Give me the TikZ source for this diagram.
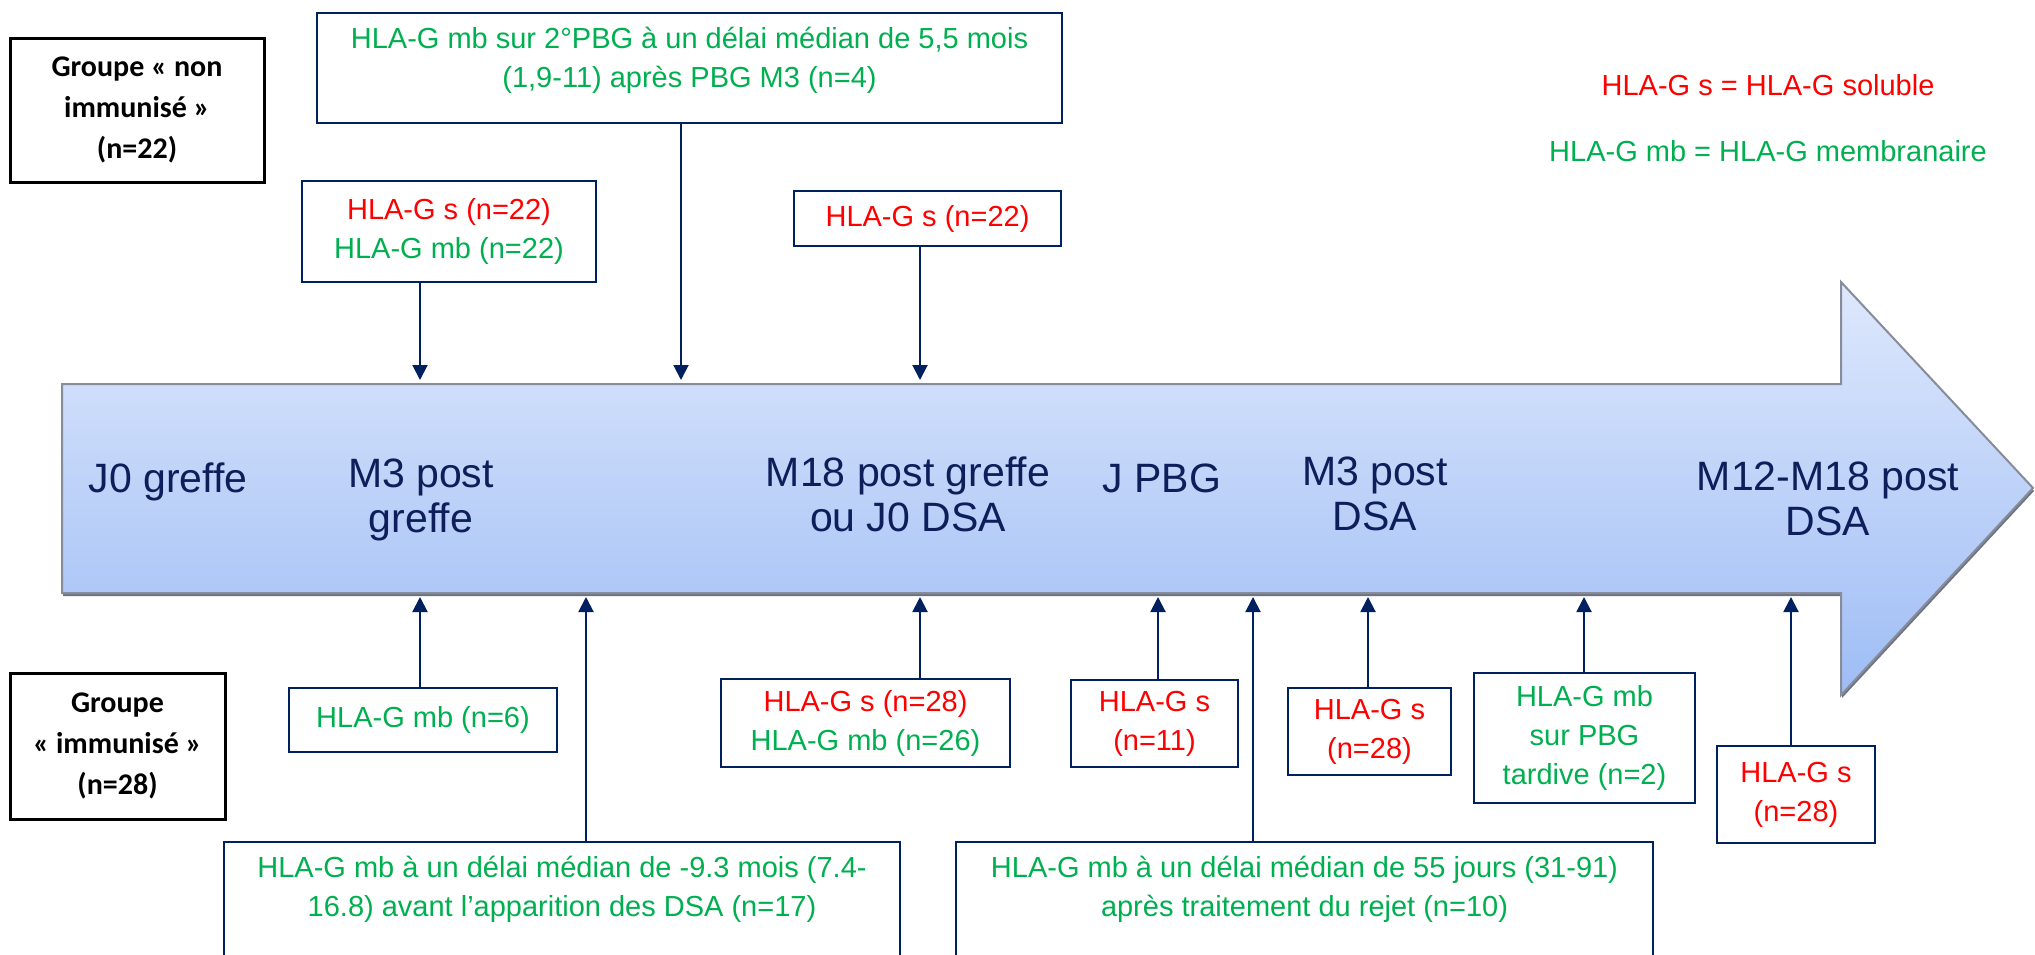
\documentclass[tikz,border=0pt]{standalone}
\usepackage{fontspec}
\setmainfont{Liberation Sans}
\newfontfamily\grpfont{Carlito}
\usetikzlibrary{arrows.meta}
\definecolor{navy}{RGB}{0,32,96}
\definecolor{lblue}{RGB}{13,30,90}
\definecolor{hred}{RGB}{255,0,0}
\definecolor{hgreen}{RGB}{0,176,80}
\definecolor{arrtop}{RGB}{222,232,252}
\definecolor{arrbot}{RGB}{158,189,245}
\definecolor{arrline}{RGB}{135,140,155}
\definecolor{arrshadow}{RGB}{110,115,130}
\begin{document}
\begin{tikzpicture}[x=0.5pt,y=-0.5pt,
  box/.style={draw=navy,line width=1.2pt,inner sep=0pt,align=center,font=\fontsize{14.5}{19.5}\selectfont},
  grp/.style={draw=black,line width=1.5pt,inner sep=0pt,align=center,font=\grpfont\bfseries\fontsize{15}{20.5}\selectfont},
  lbl/.style={text=lblue,align=center,anchor=base,inner sep=0pt,font=\fontsize{20.5}{22.5}\selectfont},
  conn/.style={draw=navy,line width=1pt,-{Triangle[length=7.5pt,width=7.5pt]}},
  txt/.style={inner sep=0pt,align=center,font=\fontsize{14.5}{19.5}\selectfont}]
\useasboundingbox (0,0) rectangle (2035,954);
\clip (0,0) rectangle (2035,954);
\fill[white] (0,0) rectangle (2035,954);

% big timeline arrow
\fill[arrshadow,shift={(1,3)}] (62,384) -- (1841,384) -- (1841,282) -- (2033,488) -- (1841,695) -- (1841,593) -- (62,593) -- cycle;
\shade[top color=arrtop,bottom color=arrbot] (62,384) -- (1841,384) -- (1841,282) -- (2033,488) -- (1841,695) -- (1841,593) -- (62,593) -- cycle;
\draw[arrline,line width=1pt] (62,384) -- (1841,384) -- (1841,282) -- (2033,488) -- (1841,695) -- (1841,593) -- (62,593) -- cycle;

% labels inside arrow (base = last line)
\node[lbl] (l1) at (168,492) {J0 greffe};
\node[lbl] (l2) at (421,532) {M3 post\\greffe};
\node[lbl] (l3) at (908,531) {M18 post greffe\\ou J0 DSA};
\node[lbl] (l4) at (1162,492) {J PBG};
\node[lbl] (l5) at (1375,530) {M3 post\\DSA};
\node[lbl] (l6) at (1828,535) {M12-M18 post\\DSA};

% top group
\node[grp,minimum width=127pt,minimum height=72pt] (g1) at (137,110) {Groupe «~non\\immunisé~»\\(n=22)};
\node[box,minimum width=372.5pt,minimum height=55pt] (top) at (689.5,68) {};
\node[txt,text=hgreen] (toptxt) at (689.5,60) {HLA-G mb sur 2°PBG à un délai médian de 5,5 mois\\(1,9-11) après PBG M3 (n=4)};
\node[box,minimum width=147pt,minimum height=50.5pt] (b22) at (449,231.5) {\textcolor{hred}{HLA-G s (n=22)}\\\textcolor{hgreen}{HLA-G mb (n=22)}};
\node[box,minimum width=133.5pt,minimum height=27.5pt,text=hred] (s22) at (927.5,218.5) {HLA-G s (n=22)};

% legend
\node[txt,text=hred] (leg1) at (1768,85) {HLA-G s = HLA-G soluble};
\node[txt,text=hgreen] (leg2) at (1768,151) {HLA-G mb = HLA-G membranaire};

% bottom group
\node[grp,minimum width=107.5pt,minimum height=73pt] (g2) at (117.5,746) {Groupe\\«~immunisé~»\\(n=28)};
\node[box,minimum width=134pt,minimum height=32pt,text=hgreen] (m6) at (423,720) {HLA-G mb (n=6)};
\node[box,minimum width=338pt,minimum height=80pt] (d93) at (562,922) {};
\node[txt,text=hgreen] (d93t) at (562,889) {HLA-G mb à un délai médian de -9.3 mois (7.4-\\16.8) avant l’apparition des DSA (n=17)};
\node[box,minimum width=144.5pt,minimum height=44pt] (s28a) at (865.5,723) {\textcolor{hred}{HLA-G s (n=28)}\\\textcolor{hgreen}{HLA-G mb (n=26)}};
\node[box,minimum width=83.5pt,minimum height=43.5pt,text=hred] (s11) at (1154.5,723.5) {HLA-G s\\(n=11)};
\node[box,minimum width=348.5pt,minimum height=80pt] (j55) at (1304.5,922) {};
\node[txt,text=hgreen] (j55t) at (1304.5,889) {HLA-G mb à un délai médian de 55 jours (31-91)\\après traitement du rejet (n=10)};
\node[box,minimum width=81.5pt,minimum height=43.5pt,text=hred] (s28b) at (1369.5,731.5) {HLA-G s\\(n=28)};
\node[box,minimum width=110.5pt,minimum height=65pt,text=hgreen] (tard) at (1584.5,738) {HLA-G mb\\sur PBG\\tardive (n=2)};
\node[box,minimum width=79pt,minimum height=48.5pt,text=hred] (s28c) at (1796,794.5) {HLA-G s\\(n=28)};

% arrow tip coordinates
\coordinate (ta) at (420,380);
\coordinate (tb) at (681,380);
\coordinate (tc) at (920,380);
\coordinate (ba) at (420,597);
\coordinate (bb) at (586,597);
\coordinate (bc) at (920,597);
\coordinate (bd) at (1158,597);
\coordinate (be) at (1253,597);
\coordinate (bf) at (1368,597);
\coordinate (bg) at (1584,597);
\coordinate (bh) at (1791,597);

% connectors
\draw[conn] (b22.south -| ta) -- (ta);
\draw[conn] (top.south -| tb) -- (tb);
\draw[conn] (s22.south -| tc) -- (tc);
\draw[conn] (m6.north -| ba) -- (ba);
\draw[conn] (d93.north -| bb) -- (bb);
\draw[conn] (s28a.north -| bc) -- (bc);
\draw[conn] (s11.north -| bd) -- (bd);
\draw[conn] (j55.north -| be) -- (be);
\draw[conn] (s28b.north -| bf) -- (bf);
\draw[conn] (tard.north -| bg) -- (bg);
\draw[conn] (s28c.north -| bh) -- (bh);
\end{tikzpicture}
\end{document}
